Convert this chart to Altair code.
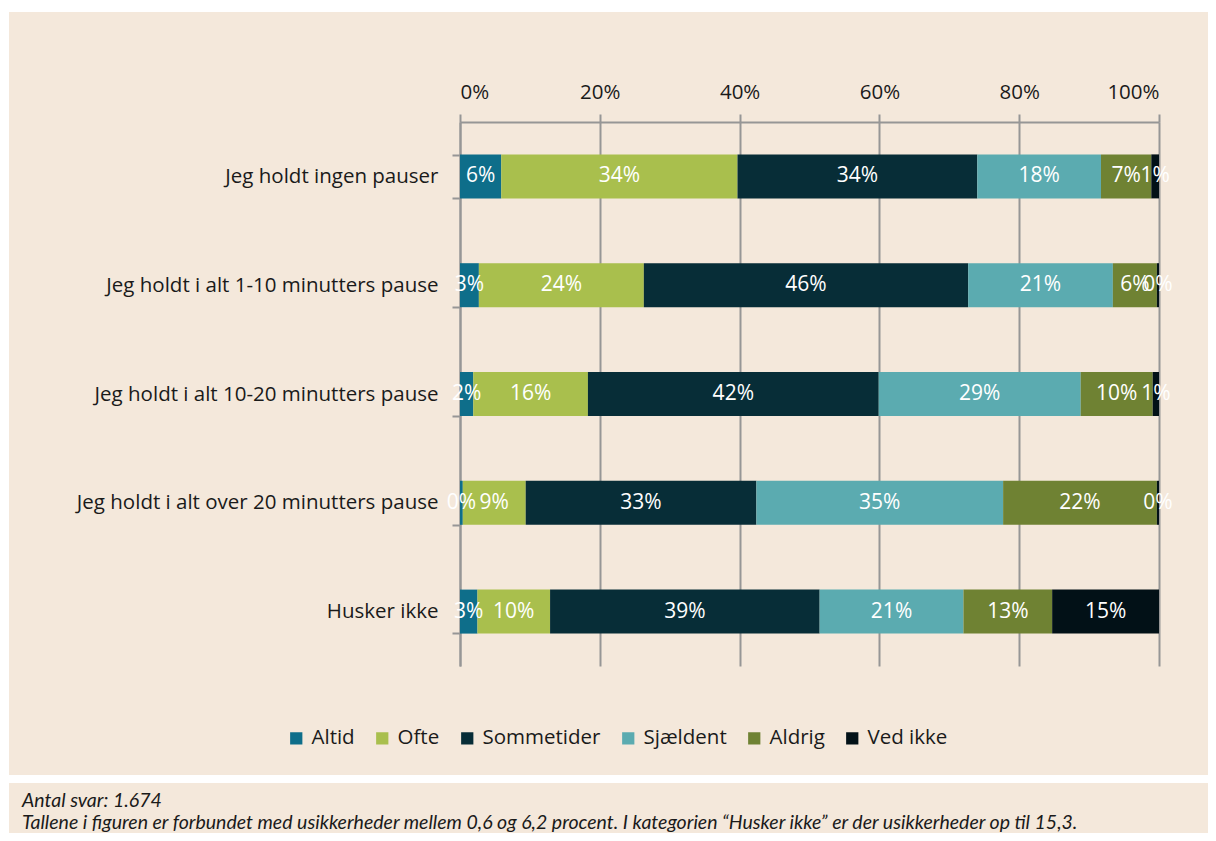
import altair as alt
import pandas as pd

questions = [
    "Jeg holdt ingen pauser",
    "Jeg holdt i alt 1-10 minutters pause",
    "Jeg holdt i alt 10-20 minutters pause",
    "Jeg holdt i alt over 20 minutters pause",
    "Husker ikke",
]
categories = ["Altid", "Ofte", "Sommetider", "Sjældent", "Aldrig", "Ved ikke"]
colors = ["#0e6e8a", "#a9bf4d", "#072d37", "#5babb0", "#6f8233", "#021117"]

altid = [5.9, 2.7, 1.9, 0.4, 2.5]
ofte = [33.8, 23.6, 16.4, 9.0, 10.4]
sommetider = [34.3, 46.4, 41.6, 33.0, 38.6]
sjaeldent = [17.7, 20.7, 28.9, 35.3, 20.6]
aldrig = [7.2, 6.3, 10.3, 22.0, 12.7]
ved_ikke = [1.1, 0.3, 0.9, 0.3, 15.3]

x_ticks = [0, 0.2, 0.4, 0.6, 0.8, 1.0]

footnote1 = "Antal svar: 1.674"
footnote2 = ("Tallene i figuren er forbundet med usikkerheder mellem 0,6 og 6,2 procent. "
             "I kategorien \u201cHusker ikke\u201d er der usikkerheder op til 15,3.")

series = [altid, ofte, sommetider, sjaeldent, aldrig, ved_ikke]
rows = []
for qi, q in enumerate(questions):
    for ci, c in enumerate(categories):
        rows.append({"question": q, "category": c, "order": ci, "value": series[ci][qi]})
df = pd.DataFrame(rows)

BG = "#f4e8db"
GRID = "#969696"
TXT = "#1a1a1a"
FONT = "Open Sans"
FS = 20.5

W, H = 699, 544
PAD_L, PAD_T = 452, 114
TOTAL_W, TOTAL_H = 1200, 825

base = alt.Chart(df)

bars = base.mark_bar(size=44).encode(
    x=alt.X("value:Q", stack="normalize",
            scale=alt.Scale(domain=[0, 1], nice=False),
            axis=alt.Axis(orient="top", values=x_ticks, format=".0%", title="",
                          labelFontSize=FS, labelFont=FONT, labelColor=TXT,
                          labelPadding=12, tickSize=8, tickColor=GRID, tickWidth=2,
                          domainColor=GRID, domainWidth=2, gridColor=GRID, gridWidth=2,
                          grid=True)),
    y=alt.Y("question:N", sort=questions,
            scale=alt.Scale(paddingInner=0.6, paddingOuter=0.3),
            axis=alt.Axis(title="", labelFontSize=FS, labelFont=FONT, labelColor=TXT,
                          labelLimit=600, labelPadding=14, tickBand="extent",
                          tickSize=8, tickColor=GRID, tickWidth=2,
                          domainColor=GRID, domainWidth=2, grid=False)),
    color=alt.Color("category:N", sort=categories,
                    scale=alt.Scale(domain=categories, range=colors),
                    legend=alt.Legend(title=None, orient="none", direction="horizontal",
                                      legendX=-174, legendY=606,
                                      symbolType="square", symbolSize=150,
                                      symbolStrokeWidth=0, symbolOpacity=1,
                                      labelFontSize=FS, labelFont=FONT, labelColor=TXT,
                                      labelOffset=5, columnPadding=17)),
    order=alt.Order("order:Q"),
)

labels = base.transform_joinaggregate(
    total="sum(value)", groupby=["question"]
).transform_window(
    cum="sum(value)", sort=[alt.SortField("order")], groupby=["question"]
).transform_calculate(
    mid="(datum.cum - datum.value / 2) / datum.total",
    label="round(datum.value) + '%'",
).mark_text(color="white", fontSize=21, font=FONT, baseline="middle").encode(
    x=alt.X("mid:Q", scale=alt.Scale(domain=[0, 1], nice=False)),
    y=alt.Y("question:N", sort=questions),
    text="label:N",
)

one = pd.DataFrame({"a": [0]})
white_top = alt.Chart(one).mark_rect(color="white").encode(
    x=alt.value(-PAD_L), x2=alt.value(TOTAL_W - PAD_L),
    y=alt.value(-PAD_T), y2=alt.value(-PAD_T + 4),
)
white_gap = alt.Chart(one).mark_rect(color="white").encode(
    x=alt.value(-PAD_L), x2=alt.value(TOTAL_W - PAD_L),
    y=alt.value(767 - PAD_T), y2=alt.value(775 - PAD_T),
)
white_left = alt.Chart(one).mark_rect(color="white").encode(
    x=alt.value(-PAD_L), x2=alt.value(-PAD_L + 1),
    y=alt.value(-PAD_T), y2=alt.value(TOTAL_H - PAD_T),
)

fn1 = alt.Chart(pd.DataFrame({"t": [footnote1]})).mark_text(
    align="left", baseline="middle", font="Lato", fontStyle="italic", fontSize=19.5, color=TXT
).encode(x=alt.value(14 - PAD_L), y=alt.value(793 - PAD_T), text="t:N")
fn2 = alt.Chart(pd.DataFrame({"t": [footnote2]})).mark_text(
    align="left", baseline="middle", font="Lato", fontStyle="italic", fontSize=19.5, color=TXT
).encode(x=alt.value(14 - PAD_L), y=alt.value(815 - PAD_T), text="t:N")

chart = alt.layer(white_top, white_gap, white_left, bars, labels, fn1, fn2).properties(
    width=W, height=H,
    autosize=alt.AutoSizeParams(type="none"),
    padding={"left": PAD_L, "top": PAD_T, "right": TOTAL_W - PAD_L - W,
             "bottom": TOTAL_H - PAD_T - H},
    background=BG,
).configure_view(stroke="transparent")

chart.save("out.html", embed_options={"renderer": "svg", "actions": False})
